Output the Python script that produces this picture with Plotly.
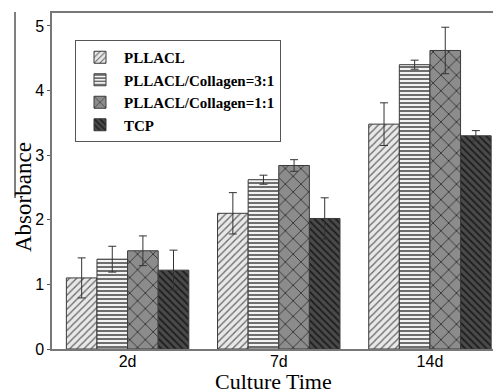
import plotly.graph_objects as go

categories = ["2d", "7d", "14d"]
series_names = ["PLLACL", "PLLACL/Collagen=3:1", "PLLACL/Collagen=1:1", "TCP"]
values = [
    [1.10, 2.10, 3.48],
    [1.39, 2.62, 4.40],
    [1.52, 2.84, 4.62],
    [1.22, 2.02, 3.30],
]
errors = [
    [0.31, 0.32, 0.33],
    [0.20, 0.07, 0.07],
    [0.23, 0.09, 0.36],
    [0.31, 0.32, 0.08],
]
y_ticks = [0, 1, 2, 3, 4, 5]

styles = [
    dict(shape="/", bg="#e8e8e8", fg="#666666", size=5, solidity=0.25),
    dict(shape="-", bg="#f2f2f2", fg="#6e6e6e", size=4, solidity=0.5),
    dict(shape="x", bg="#8c8c8c", fg="#2e2e2e", size=11, solidity=0.15),
    dict(shape="\\", bg="#4a4a4a", fg="#1e1e1e", size=5, solidity=0.35),
]

fig = go.Figure()
for name, vals, errs, st in zip(series_names, values, errors, styles):
    fig.add_trace(go.Bar(
        x=categories, y=vals, name="<b>" + name + "</b>",
        marker=dict(
            color=st["bg"],
            line=dict(color="#3a3a3a", width=1),
            pattern=dict(shape=st["shape"], bgcolor=st["bg"], fgcolor=st["fg"],
                         size=st["size"], solidity=st["solidity"], fillmode="replace"),
        ),
        error_y=dict(type="data", array=errs, visible=True, color="#333333",
                     thickness=1, width=4),
    ))

# page has an 8px body margin; lay out in page pixels
OFF = 8
W, H = 501 - OFF, 390 - OFF
left, top, right, bottom = 52, 13, 501, 349  # plot area in page pixels
ml, mt = left - OFF, top - OFF
mr, mb = (W + OFF) - right, (H + OFF) - bottom
pw = right - left
ph = bottom - top


def px(xp):
    return (xp - left) / pw


def py(yp):
    return (bottom - yp) / ph


serif = "Liberation Serif, Times New Roman, serif"

fig.update_layout(
    width=W, height=H,
    margin=dict(l=ml, r=mr, t=mt, b=mb, pad=0, autoexpand=False),
    paper_bgcolor="white", plot_bgcolor="white",
    barmode="group", bargap=0.19, bargroupgap=0,
    showlegend=True,
    legend=dict(
        x=px(75), y=py(40), xanchor="left", yanchor="top",
        bgcolor="white", bordercolor="#555555", borderwidth=1,
        font=dict(family=serif, size=15, color="black"),
        tracegroupgap=0, itemwidth=38,
    ),
    xaxis=dict(
        range=[-0.5, 2.47], showline=True, linecolor="#777777", linewidth=1.5,
        mirror=True, ticks="", showgrid=False, automargin=False,
        ticklabelstandoff=-3,
        tickfont=dict(family="Liberation Sans", size=16, color="black"),
    ),
    yaxis=dict(
        range=[0, 5.2], tickvals=y_ticks, showline=True, linecolor="#777777",
        linewidth=1.5, ticks="outside", ticklen=3, tickcolor="#555555",
        showgrid=False, zeroline=False, automargin=False,
        tickfont=dict(family="Liberation Sans", size=16, color="black"),
    ),
    annotations=[
        dict(
            text="Absorbance", xref="paper", yref="paper",
            x=px(23), y=py(197), textangle=-90,
            showarrow=False, xanchor="center", yanchor="middle",
            font=dict(family=serif, size=23, color="black"),
        ),
        dict(
            text="Culture Time", xref="paper", yref="paper",
            x=px(273), y=py(381),
            showarrow=False, xanchor="center", yanchor="middle",
            font=dict(family=serif, size=22, color="black"),
        ),
    ],
    shapes=[dict(
        type="line", xref="paper", yref="paper",
        x0=px(15), x1=px(15), y0=py(12), y1=py(198),
        line=dict(color="black", width=1),
    )],
)

fig.write_html("out.html")
